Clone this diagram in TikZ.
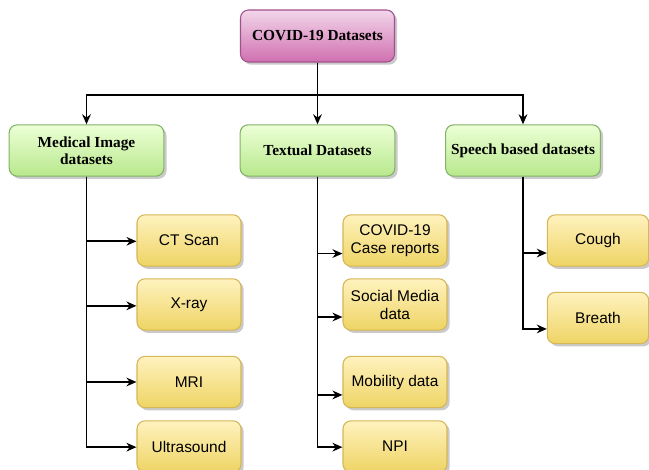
\documentclass[tikz,border=0pt]{standalone}
\usepackage{fontspec}
\setmainfont{Liberation Serif}
\newfontfamily\leaffont{Liberation Sans}
\usetikzlibrary{arrows.meta,shadows,calc}
\tikzset{
  box/.style={rectangle, rounded corners=6pt, align=center, line width=0.8pt,
    drop shadow={shadow xshift=2pt, shadow yshift=-2pt, opacity=0.35, fill=black!60}},
  rootbox/.style={box, draw={rgb,255:red,160;green,80;blue,140},
    top color={rgb,255:red,242;green,214;blue,234}, bottom color={rgb,255:red,208;green,112;blue,176},
    minimum width=115.5pt, minimum height=39pt, font=\fontsize{11.5}{13}\selectfont\bfseries},
  catbox/.style={box, draw={rgb,255:red,130;green,179;blue,102},
    top color={rgb,255:red,236;green,255;blue,214}, bottom color={rgb,255:red,184;green,232;blue,140},
    minimum width=116pt, minimum height=38.5pt, font=\fontsize{11.5}{13}\selectfont\bfseries},
  leafbox/.style={box, draw={rgb,255:red,214;green,182;blue,86},
    top color={rgb,255:red,255;green,242;blue,190}, bottom color={rgb,255:red,238;green,212;blue,100},
    minimum width=78pt, minimum height=38.5pt, font=\leaffont\fontsize{11.6}{13.5}\selectfont},
  arr/.style={-{Stealth[length=7.5pt,width=6.5pt]}, line width=1.3pt, black},
}
\begin{document}
\begin{tikzpicture}[x=0.75pt,y=-0.75pt]
\useasboundingbox (0,0) rectangle (649,470);
\node[rootbox] (root) at (317.5,36) {COVID-19 Datasets};
\node[catbox] (med) at (86.5,150.5) {Medical Image\\datasets};
\node[catbox] (txt) at (317.5,150.5) {Textual Datasets};
\node[catbox] (sp) at (523,150.5) {Speech based datasets};
% medical leaves
\node[leafbox] (ct) at (189,240.5) {CT Scan};
\node[leafbox] (xr) at (189,304.5) {X-ray};
\node[leafbox] (mri) at (189,382) {MRI};
\node[leafbox] (us) at (189,446.5) {Ultrasound};
% textual leaves
\node[leafbox] (cr) at (395,240.5) {COVID-19\\Case reports};
\node[leafbox] (sm) at (395,304.5) {Social Media\\data};
\node[leafbox] (mob) at (395,382) {Mobility data};
\node[leafbox] (npi) at (395,446.5) {NPI};
% speech leaves
\node[leafbox, minimum width=76pt] (cough) at (598,240.5) {Cough};
\node[leafbox, minimum width=76pt] (breath) at (598,318) {Breath};
% top connectors
\coordinate (jn) at (317.5,95);
\draw[line width=1.3pt] (root.south) -- (jn);
\draw[arr] (jn) -| (med.north);
\draw[arr] (jn) -- (txt.north);
\draw[arr] (jn) -| (sp.north);
% medical
\draw[arr] (med.south) |- ([yshift=-0.6pt]ct.west);
\draw[arr] (med.south) |- ([yshift=-1pt]xr.west);
\draw[arr] (med.south) |- (mri.west);
\draw[arr] (med.south) |- ([yshift=-0.5pt]us.west);
% textual
\draw[arr] (txt.south) |- ([yshift=-9.8pt]cr.west);
\draw[arr] (txt.south) |- ([yshift=-9.4pt]sm.west);
\draw[arr] (txt.south) |- ([yshift=-9.7pt]mob.west);
\draw[arr] (txt.south) |- ([yshift=-0.5pt]npi.west);
% speech
\draw[arr] (sp.south) |- ([yshift=-9.4pt]cough.west);
\draw[arr] (sp.south) |- ([yshift=-8.2pt]breath.west);
\end{tikzpicture}
\end{document}
